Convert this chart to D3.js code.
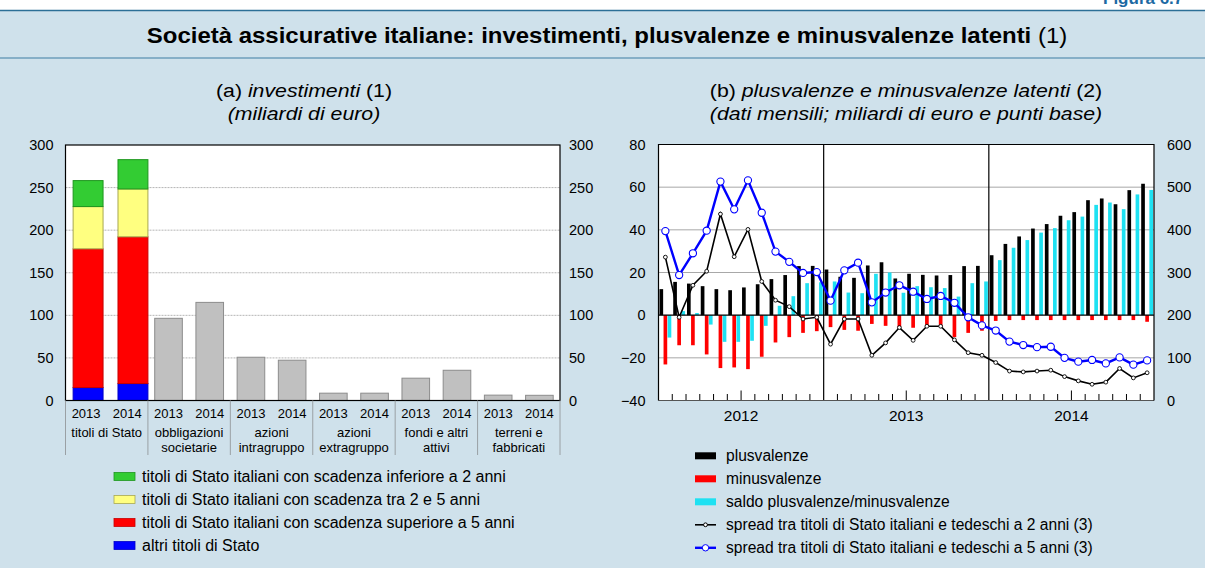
<!DOCTYPE html>
<html>
<head>
<meta charset="utf-8">
<script src="https://cdn.jsdelivr.net/npm/d3@7"></script>
<style>
body{margin:0;background:#fff;}
svg{display:block;font-family:"Liberation Sans",Arial,Helvetica,sans-serif;}
</style>
</head>
<body>
<script>
// ---- data (a) investimenti, miliardi di euro
const gruppi = ['titoli di Stato','obbligazioni societarie','azioni intragruppo','azioni extragruppo','fondi e altri attivi','terreni e fabbricati'];
const gruppiRighe = [['titoli di Stato'],['obbligazioni','societarie'],['azioni','intragruppo'],['azioni','extragruppo'],['fondi e altri','attivi'],['terreni e','fabbricati']];
const anni = ['2013','2014'];
const altriTitoli = [15.2, 19.9];
const oltre5anni = [162.9, 172.3];
const tra2e5anni = [49.6, 56.2];
const entro2anni = [30.5, 34.4];
const obbligazioni = [96.5, 115.2];
const azioniIntra = [50.8, 47.3];
const azioniExtra = [8.6, 8.6];
const fondi = [26.2, 35.5];
const terreni = [6.3, 6.1];
const ticksA = [0,50,100,150,200,250,300];

// ---- data (b) plusvalenze e minusvalenze latenti, dati mensili
const anniB = ['2012','2013','2014'];
const mesiNomi = ['gen','feb','mar','apr','mag','giu','lug','ago','set','ott','nov','dic'];
const plusvalenze = [12.2,15.6,14.8,13.6,12.2,11.7,13.0,14.5,16.9,18.8,23.0,23.1,
                     21.4,18.0,17.5,23.3,24.8,17.2,19.4,18.9,18.6,18.8,23.0,23.1,
                     28.1,33.4,36.9,40.6,42.7,46.6,48.3,53.9,54.7,52.0,58.6,61.6];
const minusvalenze = [-23.1,-14.1,-14.1,-18.4,-24.8,-24.5,-25.3,-19.5,-12.8,-10.3,-8.3,-7.5,
                      -5.6,-6.9,-7.3,-4.1,-5.0,-5.8,-5.9,-5.2,-5.6,-10.3,-8.3,-7.3,
                      -2.7,-2.3,-2.3,-2.3,-2.3,-2.3,-2.3,-2.3,-2.3,-2.3,-2.3,-3.1];
const saldo = [-10.5,1.9,1.0,-4.4,-12.5,-12.5,-12.0,-5.0,4.4,8.9,15.0,15.4,
               15.8,10.6,10.3,19.4,20.0,10.5,13.6,13.1,12.7,8.7,15.0,15.8,
               25.8,31.6,35.2,38.7,40.8,44.5,46.2,51.7,52.8,49.7,56.6,58.7];
const spread2 = [336,195,270,303,437,337,401,279,235,220,191,195,
                 132,191,191,106,135,171,141,174,174,142,112,106,
                 89,69,67,69,71,56,46,38,43,75,53,65];
const spread5 = [397,294,345,398,513,448,516,440,349,325,299,301,
                 234,305,323,230,253,270,255,238,245,229,195,176,
                 164,138,130,125,126,100,91,95,87,101,84,94];
const ticksB = [-40,-20,0,20,40,60,80];
const ticksS = [0,100,200,300,400,500,600];

const mesi = anniB.flatMap(a => mesiNomi.map(m => m + ' ' + a));

// ---- canvas
const W = 1205, H = 568;
const svg = d3.select('body').append('svg')
  .attr('width', W)
  .attr('height', H);

svg.append('rect')
  .attr('x',0).attr('y',10).attr('width',W).attr('height',H-10)
  .attr('fill','#cfe1eb');

svg.append('text')
  .attr('x',1103).attr('y',4)
  .attr('font-size',17).attr('font-weight','bold').attr('fill','#1c6aa3')
  .text('Figura 6.7');

svg.append('line').attr('x1',0).attr('x2',W).attr('y1',10.5).attr('y2',10.5)
  .attr('stroke','#2c6f96').attr('stroke-width',1.5);
svg.append('line').attr('x1',0).attr('x2',W).attr('y1',58).attr('y2',58)
  .attr('stroke','#3f7ea3').attr('stroke-width',1.2);

// the headings are set a little wider than the font's natural width
const wideText = (cx, y, sx, size) => svg.append('g')
  .attr('transform',`translate(${cx},${y}) scale(${sx},1)`)
  .append('text').attr('text-anchor','middle').attr('font-size',size);

const title = wideText(607, 43, 1.09, 22);
title.append('tspan').attr('font-weight','bold')
  .text('Società assicurative italiane: investimenti, plusvalenze e minusvalenze latenti');
title.append('tspan').text(' (1)');

// subtitles
const subA = wideText(304, 97, 1.12, 19);
subA.append('tspan').text('(a) ');
subA.append('tspan').attr('font-style','italic').text('investimenti');
subA.append('tspan').text(' (1)');
wideText(304, 119.5, 1.12, 19).attr('font-style','italic').text('(miliardi di euro)');

const subB = wideText(906, 97, 1.12, 19);
subB.append('tspan').text('(b) ');
subB.append('tspan').attr('font-style','italic').text('plusvalenze e minusvalenze latenti');
subB.append('tspan').text(' (2)');
wideText(906, 119.5, 1.12, 19).attr('font-style','italic').text('(dati mensili; miliardi di euro e punti base)');

// ================= chart (a)
const A = {left:65.5, right:560, top:145, bottom:400.5};
const yA = d3.scaleLinear().domain([0,300]).range([A.bottom, A.top]);
const xG = d3.scaleBand().domain(gruppi).range([A.left, A.right]);
const xAnno = d3.scaleBand().domain(anni).range([0, xG.bandwidth()]).paddingInner(0.33).paddingOuter(0.165);
const xStack = d3.scaleBand().domain(anni).range([0, xG.bandwidth()]).paddingInner(0.333).paddingOuter(0.085).align(1);

const gA = svg.append('g');
gA.append('rect')
  .attr('x',A.left).attr('y',A.top).attr('width',A.right-A.left).attr('height',A.bottom-A.top)
  .attr('fill','#fff');

gA.selectAll('.grid').data(ticksA.slice(1,-1)).enter().append('line')
  .attr('x1',A.left).attr('x2',A.right)
  .attr('y1',d => yA(d)).attr('y2',d => yA(d))
  .attr('stroke','#b5b5b5').attr('stroke-width',1).attr('stroke-dasharray','2,1');

// stacked titoli di Stato
const stackRows = anni.map((a,i) => ({anno:a, altri:altriTitoli[i], oltre5:oltre5anni[i], tra2e5:tra2e5anni[i], entro2:entro2anni[i]}));
const stackKeys = ['altri','oltre5','tra2e5','entro2'];
const stackFill = {altri:'#0000ff', oltre5:'#ff0000', tra2e5:'#ffff80', entro2:'#33cc33'};
const stackLine = {altri:'#0000c8', oltre5:'#c80000', tra2e5:'#a8a850', entro2:'#1e961e'};
const series = d3.stack().keys(stackKeys)(stackRows);

gA.selectAll('.layer').data(series).enter().append('g')
  .attr('fill', d => stackFill[d.key])
  .attr('stroke', d => stackLine[d.key])
  .selectAll('rect').data(d => d).enter().append('rect')
  .attr('x', d => xG(gruppi[0]) + xStack(d.data.anno))
  .attr('width', xStack.bandwidth())
  .attr('y', d => yA(d[1]))
  .attr('height', d => yA(d[0]) - yA(d[1]))
  .attr('stroke-width',1);

// other investments
const altri = [obbligazioni, azioniIntra, azioniExtra, fondi, terreni];
const barRows = [];
altri.forEach((vals,g) => vals.forEach((v,i) => barRows.push({gruppo:gruppi[g+1], anno:anni[i], v:v})));
gA.selectAll('.bar').data(barRows).enter().append('rect')
  .attr('x', d => xG(d.gruppo) + xAnno(d.anno))
  .attr('width', xAnno.bandwidth())
  .attr('y', d => yA(d.v))
  .attr('height', d => yA(0) - yA(d.v))
  .attr('fill','#c0c0c0').attr('stroke','#8c8c8c').attr('stroke-width',1);

gA.append('rect')
  .attr('x',A.left).attr('y',A.top).attr('width',A.right-A.left).attr('height',A.bottom-A.top)
  .attr('fill','none').attr('stroke','#000').attr('stroke-width',1.2);

const axisA1 = gA.append('g').attr('transform',`translate(${A.left},0)`)
  .call(d3.axisLeft(yA).tickValues(ticksA).tickSize(0).tickPadding(12));
const axisA2 = gA.append('g').attr('transform',`translate(${A.right},0)`)
  .call(d3.axisRight(yA).tickValues(ticksA).tickSize(0).tickPadding(9));
[axisA1, axisA2].forEach(g => {
  g.select('.domain').remove();
  g.attr('font-size',14.5).attr('font-family',null);
});

// category axis
const sepX = gruppi.map(g => xG(g)).concat([A.right]);
gA.selectAll('.sep').data(sepX).enter().append('line')
  .attr('x1',d => d).attr('x2',d => d)
  .attr('y1',A.bottom).attr('y2',455)
  .attr('stroke','#9aa0a4').attr('stroke-width',1);

gruppi.forEach((g,gi) => {
  anni.forEach(a => {
    gA.append('text')
      .attr('x', xG(g) + xAnno(a) + xAnno.bandwidth()/2)
      .attr('y',418).attr('text-anchor','middle').attr('font-size',13)
      .text(a);
  });
  gruppiRighe[gi].forEach((r,ri) => {
    gA.append('text')
      .attr('x', xG(g) + xG.bandwidth()/2)
      .attr('y', 437 + ri*15).attr('text-anchor','middle').attr('font-size',13)
      .text(r);
  });
});

// legend (a)
const legA = [
  {t:'titoli di Stato italiani con scadenza inferiore a 2 anni', k:'entro2'},
  {t:'titoli di Stato italiani con scadenza tra 2 e 5 anni', k:'tra2e5'},
  {t:'titoli di Stato italiani con scadenza superiore a 5 anni', k:'oltre5'},
  {t:'altri titoli di Stato', k:'altri'}
];
const lgA = gA.selectAll('.lg').data(legA).enter().append('g')
  .attr('transform',(d,i) => `translate(114,${476.5 + i*23})`);
lgA.append('rect').attr('x',0).attr('y',-4).attr('width',21).attr('height',8)
  .attr('fill',d => stackFill[d.k]).attr('stroke',d => stackLine[d.k]).attr('stroke-width',0.8);
lgA.append('text').attr('x',28).attr('y',5.5).attr('font-size',16).text(d => d.t);

// ================= chart (b)
const B = {left:658.5, right:1154, top:144.5, bottom:400.5};
const yB = d3.scaleLinear().domain([-40,80]).range([B.bottom, B.top]);
const yS = d3.scaleLinear().domain([0,600]).range([B.bottom, B.top]);
const xM = d3.scaleBand().domain(mesi).range([B.left, B.right]);
const xI = d3.scaleLinear().domain([0, mesi.length]).range([B.left, B.right]);
const bw = xM.bandwidth();
const xSer = d3.scaleBand().domain(['plus','minus','saldo']).range([bw*0.07, bw*0.93]).paddingInner(0.1);

const gB = svg.append('g');
gB.append('rect')
  .attr('x',B.left).attr('y',B.top).attr('width',B.right-B.left).attr('height',B.bottom-B.top)
  .attr('fill','#fff');

gB.selectAll('.grid').data(ticksB.filter(d => d !== 0 && d !== -40 && d !== 80)).enter().append('line')
  .attr('x1',B.left).attr('x2',B.right)
  .attr('y1',d => yB(d)).attr('y2',d => yB(d))
  .attr('stroke','#a8a8a8').attr('stroke-width',1);

const barB = [];
mesi.forEach((m,i) => {
  barB.push({m:m, s:'plus', v:plusvalenze[i]});
  barB.push({m:m, s:'minus', v:minusvalenze[i]});
  barB.push({m:m, s:'saldo', v:saldo[i]});
});
const colB = {plus:'#000000', minus:'#ff0000', saldo:'#1ee1f2'};
gB.selectAll('.barb').data(barB).enter().append('rect')
  .attr('x', d => xM(d.m) + xSer(d.s))
  .attr('width', xSer.bandwidth())
  .attr('y', d => yB(Math.max(0,d.v)))
  .attr('height', d => Math.abs(yB(d.v) - yB(0)))
  .attr('fill', d => colB[d.s]);

gB.append('line')
  .attr('x1',B.left).attr('x2',B.right).attr('y1',yB(0)).attr('y2',yB(0))
  .attr('stroke','#000').attr('stroke-width',1.2);

// year separators
gB.selectAll('.yl').data(anniB.slice(1)).enter().append('line')
  .attr('x1',d => xM('gen ' + d)).attr('x2',d => xM('gen ' + d))
  .attr('y1',B.top).attr('y2',B.bottom)
  .attr('stroke','#000').attr('stroke-width',1.2);

// month ticks
const tickIdx = d3.range(1, mesi.length).filter(k => k % 12 !== 0);
gB.selectAll('.mt').data(tickIdx).enter().append('line')
  .attr('x1',d => xI(d)).attr('x2',d => xI(d))
  .attr('y1',B.bottom).attr('y2',d => B.bottom - (d % 12 === 6 ? 10 : 6.5))
  .attr('stroke','#000').attr('stroke-width',1);

anniB.forEach((a,i) => {
  gB.append('text').attr('x', xI(i*12 + 6)).attr('y',420.5)
    .attr('text-anchor','middle').attr('font-size',15.5).text(a);
});

// spread lines
const line2 = d3.line().x((d,i) => xM(mesi[i]) + bw/2).y(d => yS(d));
gB.append('path').datum(spread2).attr('d',line2)
  .attr('fill','none').attr('stroke','#000').attr('stroke-width',1.6);
gB.selectAll('.p2').data(spread2).enter().append('circle')
  .attr('cx',(d,i) => xM(mesi[i]) + bw/2).attr('cy',d => yS(d)).attr('r',1.9)
  .attr('fill','#fff').attr('stroke','#000').attr('stroke-width',0.9);

gB.append('path').datum(spread5).attr('d',line2)
  .attr('fill','none').attr('stroke','#0000ff').attr('stroke-width',2.4);
gB.selectAll('.p5').data(spread5).enter().append('circle')
  .attr('cx',(d,i) => xM(mesi[i]) + bw/2).attr('cy',d => yS(d)).attr('r',3.6)
  .attr('fill','#fff').attr('stroke','#0000ff').attr('stroke-width',1.1);

// frame
gB.append('line').attr('x1',B.left).attr('x2',B.right).attr('y1',B.bottom).attr('y2',B.bottom)
  .attr('stroke','#555').attr('stroke-width',1.2);
gB.append('path')
  .attr('d',`M${B.left},${B.bottom}V${B.top}H${B.right}V${B.bottom}`)
  .attr('fill','none').attr('stroke','#000').attr('stroke-width',1.2);

const axisB1 = gB.append('g').attr('transform',`translate(${B.left},0)`)
  .call(d3.axisLeft(yB).tickValues(ticksB).tickSize(0).tickPadding(13));
const axisB2 = gB.append('g').attr('transform',`translate(${B.right},0)`)
  .call(d3.axisRight(yS).tickValues(ticksS).tickSize(0).tickPadding(13));
[axisB1, axisB2].forEach(g => {
  g.select('.domain').remove();
  g.attr('font-size',14.5).attr('font-family',null);
});

// legend (b)
const legB = [
  {t:'plusvalenze', type:'rect', c:colB.plus},
  {t:'minusvalenze', type:'rect', c:colB.minus},
  {t:'saldo plusvalenze/minusvalenze', type:'rect', c:colB.saldo},
  {t:'spread tra titoli di Stato italiani e tedeschi a 2 anni (3)', type:'line', c:'#000', r:1.9, w:1.6},
  {t:'spread tra titoli di Stato italiani e tedeschi a 5 anni (3)', type:'line', c:'#0000ff', r:3.2, w:2.4}
];
const lgB = gB.selectAll('.lgb').data(legB).enter().append('g')
  .attr('transform',(d,i) => `translate(695,${455.8 + i*23})`);
lgB.filter(d => d.type === 'rect').append('rect')
  .attr('x',0).attr('y',-3.5).attr('width',21).attr('height',7).attr('fill',d => d.c);
lgB.filter(d => d.type === 'line').append('line')
  .attr('x1',0).attr('x2',21).attr('y1',0).attr('y2',0)
  .attr('stroke',d => d.c).attr('stroke-width',d => d.w);
lgB.filter(d => d.type === 'line').append('circle')
  .attr('cx',10.5).attr('cy',0).attr('r',d => d.r)
  .attr('fill','#fff').attr('stroke',d => d.c).attr('stroke-width',1);
lgB.append('text').attr('x',31).attr('y',5.5).attr('font-size',15.6).text(d => d.t);
</script>
</body>
</html>
